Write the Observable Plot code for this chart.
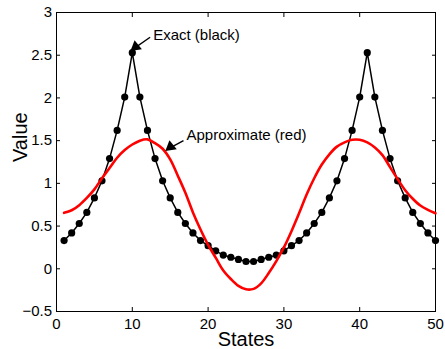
<!DOCTYPE html>
<html>
<head>
<meta charset="utf-8">
<script src="https://cdn.jsdelivr.net/npm/d3@7"></script>
<script src="https://cdn.jsdelivr.net/npm/@observablehq/plot@0.6"></script>
<style>
  html, body { margin: 0; padding: 0; background: #fff; }
  #chart svg { display: block; }
</style>
</head>
<body>
<div id="chart"></div>
<script>
const states = [1,2,3,4,5,6,7,8,9,10,11,12,13,14,15,16,17,18,19,20,21,22,23,24,25,
  26,27,28,29,30,31,32,33,34,35,36,37,38,39,40,41,42,43,44,45,46,47,48,49,50];
const exactValues = [0.33,0.42,0.53,0.66,0.83,1.03,1.29,1.62,2.01,2.53,2.01,1.62,1.29,1.03,0.83,0.66,0.53,0.42,0.33,0.27,0.21,0.16,0.135,0.11,0.085,
  0.085,0.11,0.135,0.16,0.21,0.27,0.33,0.42,0.53,0.66,0.83,1.03,1.29,1.62,2.01,2.53,2.01,1.62,1.29,1.03,0.83,0.66,0.53,0.42,0.33];
const approxValues = [0.655,0.685,0.745,0.83,0.93,1.06,1.18,1.30,1.39,1.455,1.50,1.515,1.47,1.405,1.28,1.09,0.89,0.66,0.46,0.28,0.13,-0.02,-0.12,-0.20,-0.24,
  -0.235,-0.17,-0.05,0.09,0.25,0.44,0.65,0.87,1.06,1.22,1.34,1.43,1.48,1.51,1.51,1.48,1.42,1.33,1.19,1.05,0.92,0.82,0.74,0.69,0.65];
const xTicks = [0,10,20,30,40,50];
const yTicks = [-0.5,0,0.5,1,1.5,2,2.5,3];
const xLabel = "States";
const yLabel = "Value";
// annotations: text position, arrow tail and arrow tip in data units
const annotations = [
  {label: "Exact (black)", tx: 12.75, ty: 2.74, x1: 12.35, y1: 2.71, x2: 10.15, y2: 2.575},
  {label: "Approximate (red)", tx: 17.15, ty: 1.56, x1: 16.75, y1: 1.50, x2: 14.75, y2: 1.405}
];

const exact = states.map((s, i) => ({state: s, value: exactValues[i]}));
const approx = states.map((s, i) => ({state: s, value: approxValues[i]}));

const fmt = d => String(d).replace("-", "\u2212");
const font = "'Liberation Sans', Arial, Helvetica, sans-serif";

const chart = Plot.plot({
  width: 445,
  height: 349,
  marginLeft: 56,
  marginRight: 10,
  marginTop: 12,
  marginBottom: 38,
  style: {fontFamily: font, background: "#fff", color: "#000"},
  x: {domain: [0, 50]},
  y: {domain: [-0.5, 3]},
  marks: [
    Plot.axisX(xTicks, {anchor: "bottom", tickSize: -4, tickPadding: 10.5, tickFormat: fmt, fontSize: 15, label: null}),
    Plot.axisX(xTicks, {anchor: "top", tickSize: -4, fill: "none", label: null}),
    Plot.axisY(yTicks, {anchor: "left", tickSize: -4, tickPadding: 8.5, tickFormat: fmt, fontSize: 15, label: null}),
    Plot.axisY(yTicks, {anchor: "right", tickSize: -4, fill: "none", label: null}),
    Plot.frame({stroke: "#000", strokeWidth: 1}),
    Plot.line(exact, {x: "state", y: "value", stroke: "#000", strokeWidth: 1.5}),
    Plot.dot(exact, {x: "state", y: "value", r: 3.6, fill: "#000", stroke: "none"}),
    Plot.line(approx, {x: "state", y: "value", stroke: "#ff0000", strokeWidth: 2.6, curve: "catmull-rom"}),
    Plot.link(annotations, {x1: "x1", y1: "y1", x2: "x2", y2: "y2", stroke: "#000", strokeWidth: 1.4}),
    Plot.dot(annotations, {x: "x2", y: "y2", symbol: "triangle", r: 4.3, fill: "#000", stroke: "none",
      rotate: d => 231, dx: 2.2, dy: -1.9}),
    Plot.text(annotations, {x: "tx", y: "ty", text: "label", textAnchor: "start", lineAnchor: "middle", fontSize: 15, fill: "#000"}),
    Plot.text([xLabel], {frameAnchor: "bottom", lineAnchor: "bottom", dy: 34, fontSize: 20, fill: "#000"}),
    Plot.text([yLabel], {frameAnchor: "left", lineAnchor: "bottom", rotate: -90, dx: -30, fontSize: 20, fill: "#000"})
  ]
});
document.getElementById("chart").appendChild(chart);
</script>
</body>
</html>
